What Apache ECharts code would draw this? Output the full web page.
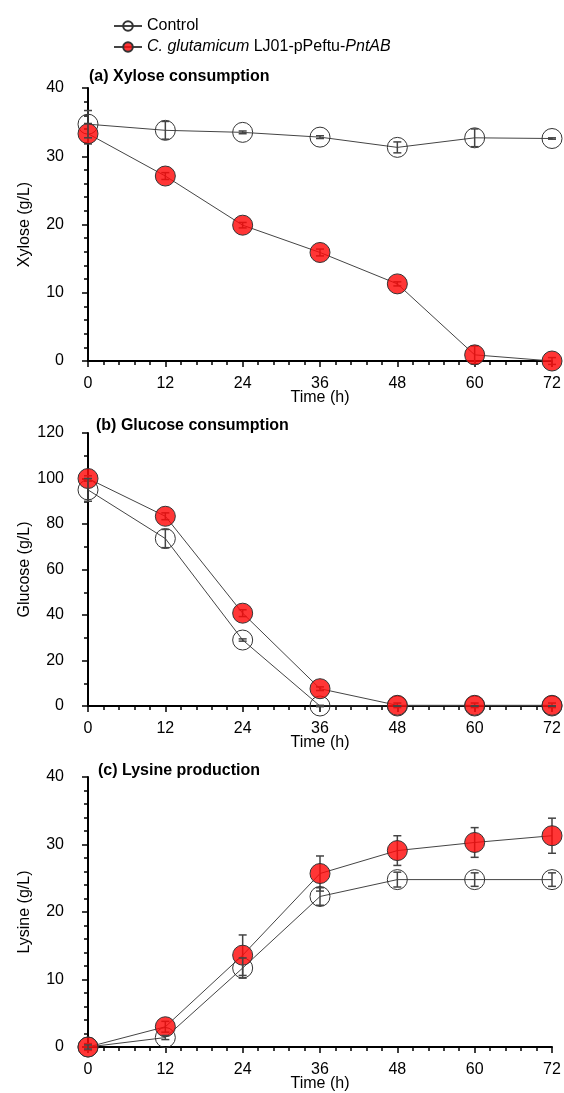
<!DOCTYPE html>
<html>
<head>
<meta charset="utf-8">
<script src="https://cdn.jsdelivr.net/npm/echarts@6/dist/echarts.min.js"></script>
<style>
  html, body { margin: 0; padding: 0; background: #fff; }
  #main { width: 564px; height: 1093px; }
</style>
</head>
<body>
<div id="main"></div>
<script>
var hours = [0, 12, 24, 36, 48, 60, 72];

var xyloseControl = [34.7, 33.8, 33.5, 32.8, 31.3, 32.7, 32.6];
var xyloseControlErr = [2.0, 1.3, 0.2, 0.2, 0.8, 1.3, 0.1];
var xylosePntAB = [33.3, 27.1, 19.9, 15.9, 11.3, 0.9, 0];
var xylosePntABErr = [1.5, 0.5, 0.4, 0.5, 0.3, 1.3, 0.5];

var glucoseControl = [95, 73.6, 29, 0, 0, 0, 0];
var glucoseControlErr = [5, 4, 0.5, 0.3, 0, 0, 0];
var glucosePntAB = [100, 83.4, 40.8, 7.6, 0.3, 0.3, 0.3];
var glucosePntABErr = [1.2, 1.5, 1.5, 0.8, 1, 1, 1];

var lysineControl = [0, 1.4, 11.7, 22.3, 24.8, 24.8, 24.8];
var lysineControlErr = [0.3, 0.3, 1.5, 1.3, 1.1, 1.0, 1.0];
var lysinePntAB = [0, 3.0, 13.6, 25.7, 29.1, 30.3, 31.3];
var lysinePntABErr = [0.5, 0.8, 3.0, 2.6, 2.2, 2.2, 2.6];

var CONTROL = 'Control';
var STRAIN = 'C. glutamicum LJ01-pPeftu-PntAB';
var FONT = 'Liberation Sans, Arial, sans-serif';

var myChart = echarts.init(document.getElementById('main'));

function pairs(ys) {
  return hours.map(function (h, i) { return [h, ys[i]]; });
}
function triples(ys, errs) {
  return hours.map(function (h, i) { return [h, ys[i], errs[i]]; });
}

// vertical error bar with caps
function renderErr(params, api) {
  var x = api.value(0), y = api.value(1), e = api.value(2);
  var hi = api.coord([x, y + e]);
  var lo = api.coord([x, y - e]);
  var w = 4;
  var style = { stroke: '#444', lineWidth: 1.5 };
  return {
    type: 'group',
    children: [
      { type: 'line', shape: { x1: hi[0], y1: hi[1], x2: lo[0], y2: lo[1] }, style: style },
      { type: 'line', shape: { x1: hi[0] - w, y1: hi[1], x2: hi[0] + w, y2: hi[1] }, style: style },
      { type: 'line', shape: { x1: lo[0] - w, y1: lo[1], x2: lo[0] + w, y2: lo[1] }, style: style }
    ]
  };
}

var panels = [
  { top: 88, height: 273, max: 40, interval: 10, minor: 5, name: 'Xylose (g/L)',
    control: xyloseControl, controlErr: xyloseControlErr, strain: xylosePntAB, strainErr: xylosePntABErr },
  { top: 433, height: 273, max: 120, interval: 20, minor: 2, name: 'Glucose (g/L)',
    control: glucoseControl, controlErr: glucoseControlErr, strain: glucosePntAB, strainErr: glucosePntABErr },
  { top: 777, height: 271, max: 40, interval: 10, minor: 5, name: 'Lysine (g/L)',
    control: lysineControl, controlErr: lysineControlErr, strain: lysinePntAB, strainErr: lysinePntABErr }
];

var tickLine = { color: '#000', width: 1.5 };
var labelStyle = { color: '#000', fontSize: 16, fontFamily: FONT };

var grid = [], xAxis = [], yAxis = [], series = [];
panels.forEach(function (p, k) {
  grid.push({ left: 88, width: 464, top: p.top, height: p.height });
  xAxis.push({
    type: 'value', gridIndex: k, min: 0, max: 72, interval: 12,
    name: 'Time (h)', nameLocation: 'middle', nameGap: 29, nameMoveOverlap: false,
    nameTextStyle: labelStyle,
    axisLine: { lineStyle: { color: '#000', width: 2 } },
    axisTick: { length: 6, lineStyle: tickLine },
    minorTick: { show: true, splitNumber: 5, length: 4, lineStyle: tickLine },
    axisLabel: { color: '#000', fontSize: 16, fontFamily: FONT, margin: 15 },
    splitLine: { show: false }
  });
  yAxis.push({
    type: 'value', gridIndex: k, min: 0, max: p.max, interval: p.interval,
    name: p.name, nameLocation: 'middle', nameGap: 55, nameMoveOverlap: false,
    nameTextStyle: labelStyle,
    axisLine: { show: true, lineStyle: { color: '#000', width: 2 } },
    axisTick: { show: true, length: 6, lineStyle: tickLine },
    minorTick: { show: true, splitNumber: p.minor, length: 4, lineStyle: tickLine },
    axisLabel: { color: '#000', fontSize: 16, fontFamily: FONT, margin: 24 },
    splitLine: { show: false }
  });
  series.push({
    type: 'custom', xAxisIndex: k, yAxisIndex: k, renderItem: renderErr,
    data: triples(p.control, p.controlErr), z: 4, silent: true
  });
  series.push({
    type: 'custom', xAxisIndex: k, yAxisIndex: k, renderItem: renderErr,
    data: triples(p.strain, p.strainErr), z: 2, silent: true
  });
  series.push({
    name: CONTROL, type: 'line', xAxisIndex: k, yAxisIndex: k,
    data: pairs(p.control), symbol: 'circle', symbolSize: 20,
    lineStyle: { color: '#444', width: 1 },
    itemStyle: { color: 'rgba(255,255,255,0)', borderColor: '#333', borderWidth: 1 },
    z: 3
  });
  series.push({
    name: STRAIN, type: 'line', xAxisIndex: k, yAxisIndex: k,
    data: pairs(p.strain), symbol: 'circle', symbolSize: 20,
    lineStyle: { color: '#444', width: 1 },
    itemStyle: { color: 'rgba(255,10,10,0.82)', borderColor: '#333', borderWidth: 1 },
    z: 3
  });
});

var titleStyle = { color: '#000', fontSize: 16, fontWeight: 'bold', fontFamily: FONT };

var option = {
  animation: false,
  title: [
    { text: '(a) Xylose consumption', left: 84, top: 64, textStyle: titleStyle },
    { text: '(b) Glucose consumption', left: 91, top: 413, textStyle: titleStyle },
    { text: '(c) Lysine production', left: 93, top: 758, textStyle: titleStyle }
  ],
  legend: {
    data: [CONTROL, STRAIN],
    orient: 'vertical',
    left: 108, top: 13,
    itemWidth: 28, itemHeight: 12, itemGap: 5,
    textStyle: {
      color: '#000', fontSize: 16, fontFamily: FONT,
      rich: { i: { fontStyle: 'italic', fontSize: 16, fontFamily: FONT, color: '#000' } }
    },
    formatter: function (name) {
      if (name === STRAIN) return '{i|C. glutamicum} LJ01-pPeftu-{i|PntAB}';
      return name;
    }
  },
  grid: grid,
  xAxis: xAxis,
  yAxis: yAxis,
  series: series
};

myChart.setOption(option);
</script>
</body>
</html>
